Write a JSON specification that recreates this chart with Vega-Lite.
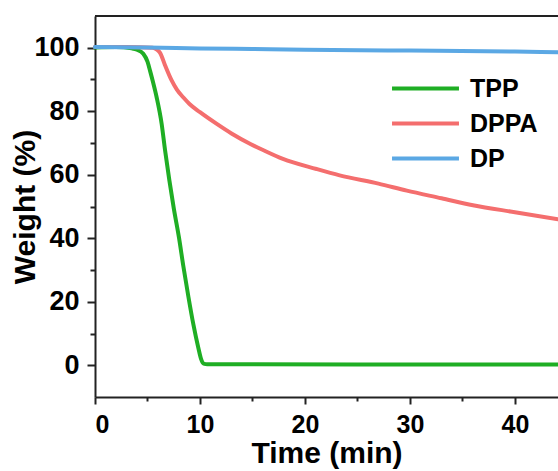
{
  "$schema": "https://vega.github.io/schema/vega-lite/v6.json",
  "width": 463,
  "height": 381,
  "autosize": {"type": "none"},
  "padding": {"left": 95, "top": 16, "right": 0, "bottom": 74},
  "config": {
    "view": {"stroke": null},
    "font": "Liberation Sans",
    "axis": {
      "grid": false,
      "domainColor": "#222222",
      "domainWidth": 2,
      "tickColor": "#222222",
      "tickWidth": 2,
      "labelFont": "Liberation Sans",
      "labelFontWeight": "bold",
      "labelFontSize": 25,
      "labelColor": "#000000",
      "titleFont": "Liberation Sans",
      "titleFontWeight": "bold",
      "titleFontSize": 30,
      "titleColor": "#000000"
    },
    "legend": {
      "labelFont": "Liberation Sans",
      "labelFontWeight": "bold",
      "labelFontSize": 25,
      "labelColor": "#000000"
    }
  },
  "data": {
    "values": [
      {"t": 0, "w": 100.1, "s": "TPP"},
      {"t": 2, "w": 100.2, "s": "TPP"},
      {"t": 3.5, "w": 99.8, "s": "TPP"},
      {"t": 4, "w": 99.4, "s": "TPP"},
      {"t": 4.6, "w": 98.1, "s": "TPP"},
      {"t": 5, "w": 95.6, "s": "TPP"},
      {"t": 5.24, "w": 92.8, "s": "TPP"},
      {"t": 5.5, "w": 89.5, "s": "TPP"},
      {"t": 5.87, "w": 84.4, "s": "TPP"},
      {"t": 6.35, "w": 76, "s": "TPP"},
      {"t": 6.67, "w": 67.8, "s": "TPP"},
      {"t": 7.08, "w": 58.3, "s": "TPP"},
      {"t": 7.5, "w": 49.5, "s": "TPP"},
      {"t": 8, "w": 40.2, "s": "TPP"},
      {"t": 8.4, "w": 31.5, "s": "TPP"},
      {"t": 8.9, "w": 21.5, "s": "TPP"},
      {"t": 9.36, "w": 13, "s": "TPP"},
      {"t": 9.84, "w": 5.5, "s": "TPP"},
      {"t": 10.1, "w": 2, "s": "TPP"},
      {"t": 10.35, "w": 0.5, "s": "TPP"},
      {"t": 10.7, "w": 0.3, "s": "TPP"},
      {"t": 15, "w": 0.3, "s": "TPP"},
      {"t": 25, "w": 0.2, "s": "TPP"},
      {"t": 35, "w": 0.2, "s": "TPP"},
      {"t": 44.1, "w": 0.2, "s": "TPP"},
      {"t": 0, "w": 100.2, "s": "DPPA"},
      {"t": 3, "w": 100.2, "s": "DPPA"},
      {"t": 5.5, "w": 100, "s": "DPPA"},
      {"t": 5.9, "w": 99.4, "s": "DPPA"},
      {"t": 6.2, "w": 98.4, "s": "DPPA"},
      {"t": 6.67, "w": 94.5, "s": "DPPA"},
      {"t": 7.3, "w": 89.7, "s": "DPPA"},
      {"t": 7.8, "w": 86.8, "s": "DPPA"},
      {"t": 8.4, "w": 84.4, "s": "DPPA"},
      {"t": 9, "w": 82.3, "s": "DPPA"},
      {"t": 10, "w": 79.7, "s": "DPPA"},
      {"t": 11.6, "w": 76, "s": "DPPA"},
      {"t": 13, "w": 73, "s": "DPPA"},
      {"t": 14.8, "w": 69.7, "s": "DPPA"},
      {"t": 16, "w": 67.8, "s": "DPPA"},
      {"t": 17.9, "w": 65, "s": "DPPA"},
      {"t": 21.1, "w": 61.8, "s": "DPPA"},
      {"t": 23.3, "w": 59.8, "s": "DPPA"},
      {"t": 27, "w": 57.2, "s": "DPPA"},
      {"t": 29.7, "w": 55, "s": "DPPA"},
      {"t": 33, "w": 52.6, "s": "DPPA"},
      {"t": 36, "w": 50.4, "s": "DPPA"},
      {"t": 40, "w": 48.2, "s": "DPPA"},
      {"t": 44.1, "w": 46, "s": "DPPA"},
      {"t": 0, "w": 100.2, "s": "DP"},
      {"t": 5, "w": 100.1, "s": "DP"},
      {"t": 10, "w": 99.8, "s": "DP"},
      {"t": 15, "w": 99.6, "s": "DP"},
      {"t": 20, "w": 99.4, "s": "DP"},
      {"t": 30, "w": 99.1, "s": "DP"},
      {"t": 40, "w": 98.8, "s": "DP"},
      {"t": 44.1, "w": 98.6, "s": "DP"}
    ]
  },
  "layer": [
    {
      "mark": {"type": "rule", "color": "#222222", "strokeWidth": 2},
      "encoding": {
        "y": {
          "datum": 110, "type": "quantitative",
          "scale": {"domain": [-10, 110], "nice": false, "zero": false},
          "axis": {
            "title": "Weight (%)",
            "values": [0, 10, 20, 30, 40, 50, 60, 70, 80, 90, 100],
            "labelExpr": "datum.value % 20 === 0 ? datum.label : ''",
            "tickSize": {"condition": {"test": "datum.value % 20 === 0", "value": 8}, "value": 5},
            "labelPadding": 8,
            "labelFontSize": 27,
            "titlePadding": -7
          }
        }
      }
    },
    {
      "mark": {"type": "line", "strokeWidth": 4, "interpolate": "monotone", "strokeCap": "round"},
      "encoding": {
        "x": {
          "field": "t", "type": "quantitative",
          "scale": {"domain": [0, 44.1], "nice": false, "zero": false},
          "axis": {
            "title": "Time (min)",
            "values": [0, 5, 10, 15, 20, 25, 30, 35, 40],
            "labelExpr": "datum.value % 10 === 0 ? datum.label : ''",
            "tickSize": {"condition": {"test": "datum.value % 10 === 0", "value": 7}, "value": 4},
            "labelPadding": 8,
            "titlePadding": 1
          }
        },
        "y": {
          "field": "w", "type": "quantitative",
          "scale": {"domain": [-10, 110], "nice": false, "zero": false},
          "axis": {
            "title": "Weight (%)",
            "values": [0, 10, 20, 30, 40, 50, 60, 70, 80, 90, 100],
            "labelExpr": "datum.value % 20 === 0 ? datum.label : ''",
            "tickSize": {"condition": {"test": "datum.value % 20 === 0", "value": 8}, "value": 5},
            "labelPadding": 8,
            "labelFontSize": 27,
            "titlePadding": -7
          }
        },
        "color": {
          "field": "s", "type": "nominal",
          "sort": ["TPP", "DPPA", "DP"],
          "scale": {"domain": ["TPP", "DPPA", "DP"], "range": ["#1fae24", "#f46e6e", "#5ba8e4"]},
          "legend": {
            "title": null,
            "orient": "none",
            "legendX": 317,
            "legendY": 59,
            "symbolType": "M-3,0H3",
            "symbolSize": 498,
            "symbolStrokeWidth": 4,
            "labelOffset": 31,
            "rowPadding": 8,
            "padding": 0
          }
        }
      }
    }
  ]
}
